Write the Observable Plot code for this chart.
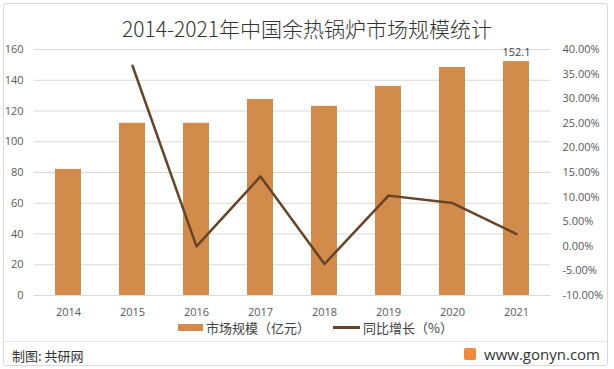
<!DOCTYPE html>
<html><head><meta charset="utf-8">
<script src="https://cdn.jsdelivr.net/npm/d3@7"></script>
<script src="https://cdn.jsdelivr.net/npm/@observablehq/plot@0.6"></script>
<style>
body{margin:0;background:#fff;font-family:"Noto Sans CJK SC","Open Sans",sans-serif;}
#wrap{position:relative;width:614px;height:369px;overflow:hidden;}
#border{position:absolute;left:3px;top:3px;width:603px;height:361px;border:1px solid #d9d9d9;border-radius:3px;}
#sep{position:absolute;left:4px;top:341px;width:603px;height:1px;background:#e6e6e6;}
#title{position:absolute;left:0;top:13px;width:614px;text-align:center;font-size:21px;color:#333;font-family:"Noto Sans CJK SC",sans-serif;font-weight:300;}
#legend{position:absolute;top:318px;left:0;width:614px;font-size:13px;color:#404040;}
.li{position:absolute;top:0;display:flex;align-items:center;white-space:nowrap;}
#foot{position:absolute;left:12px;top:346px;font-size:13px;color:#333;}
#site{position:absolute;right:14px;top:344px;font-size:15px;color:#333;font-family:"Open Sans",sans-serif;display:flex;align-items:center;}
#logo{width:12px;height:12px;background:#f08a3c;margin-right:8px;border-radius:2px;}
svg{position:absolute;left:0;top:0;}
</style></head>
<body><div id="wrap">
<div id="border"></div>
<div id="sep"></div>
<div id="chart"></div>
<div id="title">2014-2021年中国余热锅炉市场规模统计</div>
<div id="legend">
  <div class="li" style="left:178px"><span style="display:inline-block;width:25px;height:7px;background:#D38B4C;margin-right:3px"></span>市场规模（亿元）</div>
  <div class="li" style="left:333px"><span style="display:inline-block;width:27px;height:3px;background:#664428;margin-right:3px"></span>同比增长（%）</div>
</div>
<div id="foot">制图: 共研网</div>
<div id="site"><div id="logo"></div>www.gonyn.com</div>
</div>
<script>
const years = ["2014","2015","2016","2017","2018","2019","2020","2021"];
const marketSize = [82, 112, 112, 127.5, 123, 136, 148.3, 152.1];
const growth = [null, 36.7, 0.0, 14.2, -3.6, 10.3, 8.8, 2.5];
const leftTicks = [0,20,40,60,80,100,120,140,160];
const rightTicks = [-10,-5,0,5,10,15,20,25,30,35,40];
const lastLabel = ["152.1"];

const toLeft = p => (p + 10) * 160 / 50;
const data = years.map((y,i)=>({year:y, size:marketSize[i], growth:growth[i]}));
const lineData = data.filter(d=>d.growth!==null);

const chart = Plot.plot({
  width:614, height:369,
  marginTop:49, marginBottom:74, marginLeft:34, marginRight:64,
  style:{fontFamily:"'Open Sans', sans-serif", fontSize:"11px", color:"#595959", background:"transparent"},
  x:{domain:years, paddingInner:0.6, paddingOuter:0.3},
  y:{domain:[0,160]},
  marks:[
    Plot.ruleY(leftTicks, {stroke:"#d9d9d9", strokeWidth:1}),
    Plot.barY(data, {x:"year", y:"size", fill:"#D38B4C"}),
    Plot.line(lineData, {x:"year", y:d=>toLeft(d.growth), stroke:"#664428", strokeWidth:2.5}),
    Plot.text(data.filter(d=>d.year==="2021"), {x:"year", y:"size", text:()=>lastLabel[0], dy:-9, fill:"#404040", fontSize:11}),
    Plot.axisY(leftTicks, {anchor:"left", tickSize:0, tickPadding:11, label:null, fill:"#595959"}),
    Plot.axisY(rightTicks.map(toLeft), {anchor:"right", tickSize:0, tickPadding:12, label:null, fill:"#595959",
      tickFormat:v=>(v*50/160-10).toFixed(2)+"%"}),
    Plot.axisX({tickSize:0, tickPadding:13, label:null, fill:"#595959"})
  ]
});
document.getElementById("chart").appendChild(chart);
</script>
</body></html>
